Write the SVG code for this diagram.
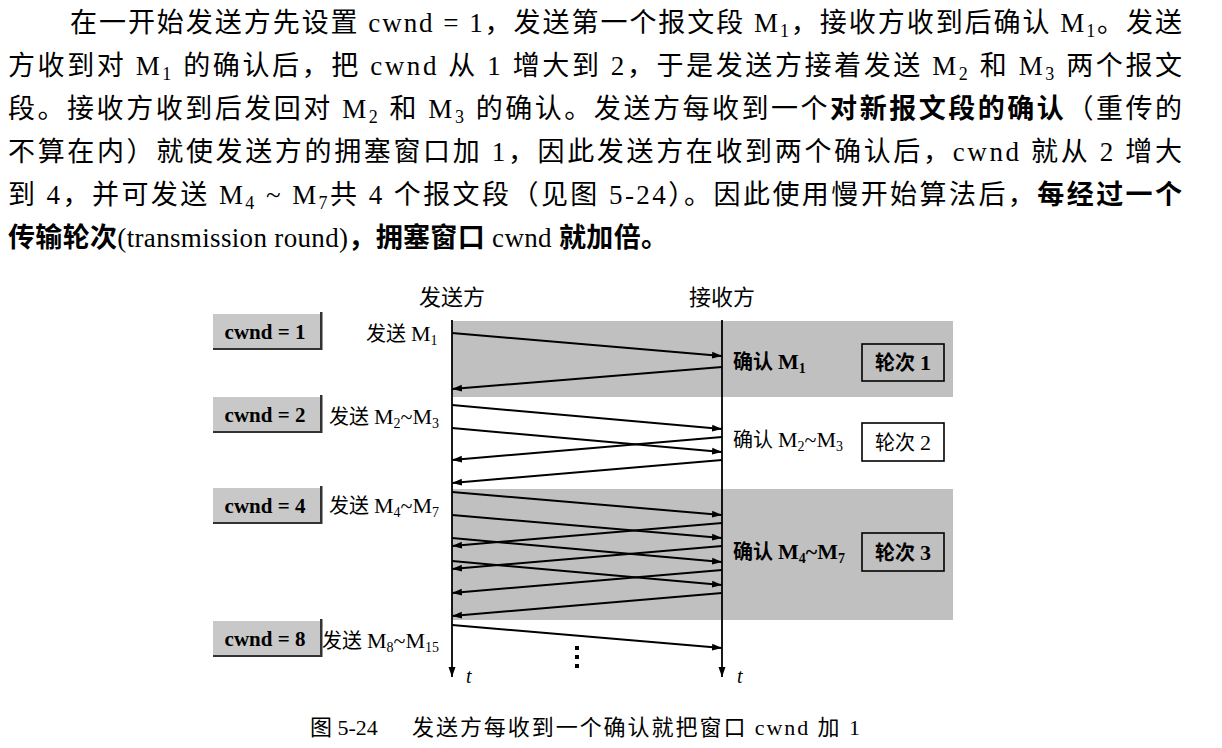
<svg xmlns="http://www.w3.org/2000/svg" width="1222" height="748" viewBox="0 0 1222 748">
<style>
.p{font-family:'Liberation Serif','Noto Sans CJK SC',serif;font-size:27px;fill:#000}
.b{font-family:'Noto Sans CJK SC',sans-serif;font-weight:bold}
.ps{font-size:18px}
.d{font-family:'Liberation Serif','Noto Sans CJK SC',serif;font-size:22px;fill:#000}
.c{font-size:20px}
.db{font-weight:bold}
.ds{font-size:14px}
.cw{font-family:'Liberation Serif',serif;font-size:21px;font-weight:bold;fill:#000}
.t{font-family:'Liberation Serif',serif;font-size:20px;font-style:italic;fill:#000}
.cap{font-family:'Liberation Serif','Noto Sans CJK SC',serif;font-size:22px;fill:#000}
.band{fill:#c0c0c0}
.box{fill:#c8c8c8}
.sh{fill:#333}
.rb{fill:none;stroke:#000;stroke-width:1.6}
.msg{stroke:#000;stroke-width:2;fill:none;marker-end:url(#ah)}
.life{stroke:#000;stroke-width:1.8;fill:none;marker-end:url(#ah)}
</style>
<defs>
<marker id="ah" markerUnits="userSpaceOnUse" markerWidth="11" markerHeight="8" refX="10" refY="4" orient="auto">
<path d="M0,0.5 L10,4 L0,7.5 z" fill="#000"/>
</marker>
</defs>
<rect width="1222" height="748" fill="#fff"/>

<g id="paragraph">
<text class="p" x="70" y="32" textLength="1112" lengthAdjust="spacing">在一开始发送方先设置 cwnd = 1，发送第一个报文段 M<tspan class="ps" dy="5">1</tspan><tspan dy="-5">，接收方收到后确认 M</tspan><tspan class="ps" dy="5">1</tspan><tspan dy="-5">。发送</tspan></text>
<text class="p" x="8" y="75" textLength="1174" lengthAdjust="spacing">方收到对 M<tspan class="ps" dy="5">1</tspan><tspan dy="-5"> 的确认后，把 cwnd 从 1 增大到 2，于是发送方接着发送 M</tspan><tspan class="ps" dy="5">2</tspan><tspan dy="-5"> 和 M</tspan><tspan class="ps" dy="5">3</tspan><tspan dy="-5"> 两个报文</tspan></text>
<text class="p" x="8" y="118" textLength="1174" lengthAdjust="spacing">段。接收方收到后发回对 M<tspan class="ps" dy="5">2</tspan><tspan dy="-5"> 和 M</tspan><tspan class="ps" dy="5">3</tspan><tspan dy="-5"> 的确认。发送方每收到一个</tspan><tspan class="b">对新报文段的确认</tspan>（重传的</text>
<text class="p" x="8" y="161" textLength="1174" lengthAdjust="spacing">不算在内）就使发送方的拥塞窗口加 1，因此发送方在收到两个确认后，cwnd 就从 2 增大</text>
<text class="p" x="8" y="204" textLength="1174" lengthAdjust="spacing">到 4，并可发送 M<tspan class="ps" dy="5">4</tspan><tspan dy="-5"> ~ M</tspan><tspan class="ps" dy="5">7</tspan><tspan dy="-5">共 4 个报文段（见图 5-24）。因此使用慢开始算法后，</tspan><tspan class="b">每经过一个</tspan></text>
<text class="p" x="8" y="247" textLength="660" lengthAdjust="spacing"><tspan class="b">传输轮次</tspan>(transmission round)<tspan class="b">，拥塞窗口</tspan> cwnd <tspan class="b">就加倍。</tspan></text>
</g>

<g id="bands">
<rect class="band" x="452" y="321" width="501" height="76"/>
<rect class="band" x="452" y="489" width="501" height="131"/>
</g>

<g id="sender">
<text class="d" x="452" y="305" text-anchor="middle" font-size="21">发送方</text>
</g>
<g id="receiver">
<text class="d" x="722" y="305" text-anchor="middle" font-size="21">接收方</text>
</g>

<g id="cwnd1">
<rect class="box" x="213" y="314" width="107" height="34"/>
<rect class="sh" x="320" y="312" width="2.5" height="38"/>
<rect class="sh" x="213" y="348" width="109" height="2"/>
<text class="cw" x="265" y="339" text-anchor="middle">cwnd = 1</text>
</g>
<g id="cwnd2">
<rect class="box" x="213" y="397" width="107" height="34"/>
<rect class="sh" x="320" y="395" width="2.5" height="38"/>
<rect class="sh" x="213" y="431" width="109" height="2"/>
<text class="cw" x="265" y="422" text-anchor="middle">cwnd = 2</text>
</g>
<g id="cwnd4">
<rect class="box" x="213" y="488" width="107" height="34"/>
<rect class="sh" x="320" y="486" width="2.5" height="38"/>
<rect class="sh" x="213" y="522" width="109" height="2"/>
<text class="cw" x="265" y="513" text-anchor="middle">cwnd = 4</text>
</g>
<g id="cwnd8">
<rect class="box" x="213" y="621" width="107" height="34"/>
<rect class="sh" x="320" y="619" width="2.5" height="38"/>
<rect class="sh" x="213" y="655" width="109" height="2"/>
<text class="cw" x="265" y="646" text-anchor="middle">cwnd = 8</text>
</g>

<g id="send1"><text class="d" x="366" y="341"><tspan class="c">发送 </tspan>M<tspan class="ds" dy="4">1</tspan></text></g>
<g id="send2"><text class="d" x="329" y="424"><tspan class="c">发送 </tspan>M<tspan class="ds" dy="4">2</tspan><tspan dy="-4">~M</tspan><tspan class="ds" dy="4">3</tspan></text></g>
<g id="send4"><text class="d" x="329" y="513"><tspan class="c">发送 </tspan>M<tspan class="ds" dy="4">4</tspan><tspan dy="-4">~M</tspan><tspan class="ds" dy="4">7</tspan></text></g>
<g id="send8"><text class="d" x="322" y="648"><tspan class="c">发送 </tspan>M<tspan class="ds" dy="4">8</tspan><tspan dy="-4">~M</tspan><tspan class="ds" dy="4">15</tspan></text></g>

<g id="ack1"><text class="d db" x="733" y="369"><tspan class="c">确认 </tspan>M<tspan class="ds" dy="4">1</tspan></text></g>
<g id="ack2"><text class="d" x="733" y="447"><tspan class="c">确认 </tspan>M<tspan class="ds" dy="4">2</tspan><tspan dy="-4">~M</tspan><tspan class="ds" dy="4">3</tspan></text></g>
<g id="ack4"><text class="d db" x="733" y="559"><tspan class="c">确认 </tspan>M<tspan class="ds" dy="4">4</tspan><tspan dy="-4">~M</tspan><tspan class="ds" dy="4">7</tspan></text></g>

<g id="round1"><rect class="rb" x="862" y="344" width="82" height="37"/><text class="d db" x="903" y="370" text-anchor="middle"><tspan class="c">轮次 </tspan>1</text></g>
<g id="round2"><rect class="rb" x="862" y="423" width="82" height="38"/><text class="d" x="903" y="450" text-anchor="middle"><tspan class="c">轮次 </tspan>2</text></g>
<g id="round3"><rect class="rb" x="862" y="533" width="82" height="38"/><text class="d db" x="903" y="560" text-anchor="middle"><tspan class="c">轮次 </tspan>3</text></g>

<g id="connectors">
<line class="life" x1="452" y1="320" x2="452" y2="677"/>
<line class="life" x1="722" y1="320" x2="722" y2="677"/>
<line class="msg" x1="452" y1="333" x2="722" y2="356"/>
<line class="msg" x1="722" y1="367" x2="452" y2="389"/>
<line class="msg" x1="452" y1="405" x2="722" y2="429"/>
<line class="msg" x1="452" y1="428" x2="722" y2="452"/>
<line class="msg" x1="722" y1="437" x2="452" y2="460"/>
<line class="msg" x1="722" y1="460" x2="452" y2="483"/>
<line class="msg" x1="452" y1="492" x2="722" y2="515"/>
<line class="msg" x1="452" y1="515" x2="722" y2="538"/>
<line class="msg" x1="452" y1="538" x2="722" y2="562"/>
<line class="msg" x1="452" y1="561" x2="722" y2="585"/>
<line class="msg" x1="722" y1="523" x2="452" y2="546"/>
<line class="msg" x1="722" y1="546" x2="452" y2="569"/>
<line class="msg" x1="722" y1="570" x2="452" y2="593"/>
<line class="msg" x1="722" y1="593" x2="452" y2="616"/>
<line class="msg" x1="452" y1="625" x2="722" y2="648"/>
</g>

<g id="dots">
<rect x="575" y="646" width="4" height="4" fill="#000"/>
<rect x="575" y="655" width="4" height="4" fill="#000"/>
<rect x="575" y="664" width="4" height="4" fill="#000"/>
</g>
<g id="taxis">
<text class="t" x="466" y="683">t</text>
<text class="t" x="737" y="683">t</text>
</g>

<g id="caption">
<text class="cap" x="310" y="735">图 5-24</text>
<text class="cap" x="412" y="735" textLength="448" lengthAdjust="spacing">发送方每收到一个确认就把窗口 cwnd 加 1</text>
</g>
</svg>
